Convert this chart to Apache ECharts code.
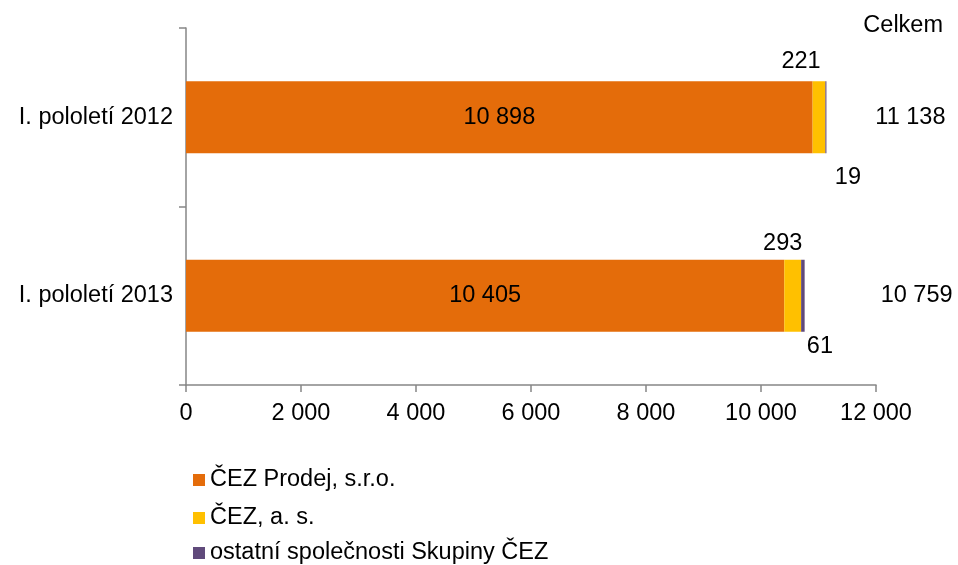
<!DOCTYPE html>
<html>
<head>
<meta charset="utf-8">
<script src="https://cdn.jsdelivr.net/npm/echarts@6/dist/echarts.min.js"></script>
<style>
    html, body { margin: 0; padding: 0; background: #fff; }
    #chart { width: 958px; height: 565px; }
</style>
</head>
<body>
<div id="chart"></div>
<script>
    var categories = ['I. pololetí 2012', 'I. pololetí 2013'];
    var prodej = [10898, 10405];
    var cezAs = [221, 293];
    var ostatni = [19, 61];
    var celkem = [11138, 10759];
    var seriesNames = ['ČEZ Prodej, s.r.o.', 'ČEZ, a. s.', 'ostatní společnosti Skupiny ČEZ'];
    var xTicks = [0, 2000, 4000, 6000, 8000, 10000, 12000];

    // label placement per bar, hand placed like in the original
    var asOffsets = [[-18, 0], [-10, 0]];
    var asDist = [8, 4];
    var ostOffsets = [[22, 0], [17, 0]];
    var ostDist = [12, 3];
    var totalOffsets = [[84, 0], [112, 0]];
    var legendTops = [468, 506, 541];

    function fmt(v) {
        return String(v).replace(/\B(?=(\d{3})+(?!\d))/g, ' ');
    }

    var font = 'Liberation Sans, Arial, sans-serif';
    var fs = 23.5;
    var chart = echarts.init(document.getElementById('chart'));

    // one legend per row so that the column never wraps
    var legends = seriesNames.map(function (name, i) {
        return {
            orient: 'vertical',
            left: 193,
            top: legendTops[i],
            padding: 0,
            itemWidth: 12,
            itemHeight: 12,
            icon: 'rect',
            textStyle: { fontSize: fs, lineHeight: 24, color: '#000' },
            data: [name]
        };
    });

    chart.setOption({
        animation: false,
        textStyle: { fontFamily: font },
        graphic: [{
            type: 'text',
            right: 15,
            top: 14,
            style: { text: 'Celkem', fontSize: fs, fontFamily: font, fill: '#000' }
        }],
        legend: legends,
        grid: {
            left: 186,
            right: 82,
            top: 28,
            bottom: 180
        },
        xAxis: {
            type: 'value',
            min: 0,
            max: 12000,
            interval: 2000,
            splitLine: { show: false },
            axisLine: { show: true, lineStyle: { color: '#868686', width: 1.5 } },
            axisTick: { show: true, length: 7, lineStyle: { color: '#868686', width: 1.5 } },
            axisLabel: {
                fontSize: fs, color: '#000', margin: 17,
                formatter: function (v) { return xTicks.indexOf(v) >= 0 ? fmt(v) : ''; }
            }
        },
        yAxis: {
            type: 'category',
            inverse: true,
            data: categories,
            axisLine: { show: true, lineStyle: { color: '#868686', width: 1.5 } },
            axisTick: { show: true, length: 7, lineStyle: { color: '#868686', width: 1.5 } },
            axisLabel: { fontSize: fs, color: '#000', margin: 13 }
        },
        series: [
            {
                name: seriesNames[0],
                type: 'bar',
                stack: 'total',
                barWidth: 72,
                itemStyle: { color: '#E46C0A' },
                label: {
                    show: true, position: 'inside', fontSize: fs, color: '#000',
                    formatter: function (p) { return fmt(p.value); }
                },
                data: prodej
            },
            {
                name: seriesNames[1],
                type: 'bar',
                stack: 'total',
                barWidth: 72,
                itemStyle: { color: '#FFC000' },
                data: cezAs.map(function (v, i) {
                    return {
                        value: v,
                        label: {
                            show: true, position: 'top', distance: asDist[i], offset: asOffsets[i],
                            fontSize: fs, color: '#000', formatter: fmt(v)
                        }
                    };
                })
            },
            {
                name: seriesNames[2],
                type: 'bar',
                stack: 'total',
                barWidth: 72,
                itemStyle: { color: '#604A7B' },
                data: ostatni.map(function (v, i) {
                    return {
                        value: v,
                        label: {
                            show: true, position: 'bottom', distance: ostDist[i], offset: ostOffsets[i],
                            fontSize: fs, color: '#000', formatter: fmt(v)
                        }
                    };
                })
            },
            {
                name: 'Celkem',
                type: 'scatter',
                symbolSize: 0,
                itemStyle: { color: '#000', opacity: 1 },
                data: celkem.map(function (v, i) {
                    return {
                        value: [v, categories[i]],
                        label: {
                            show: true, position: 'inside', offset: totalOffsets[i],
                            fontSize: fs, color: '#000', formatter: fmt(v)
                        }
                    };
                })
            }
        ]
    });
</script>
</body>
</html>
